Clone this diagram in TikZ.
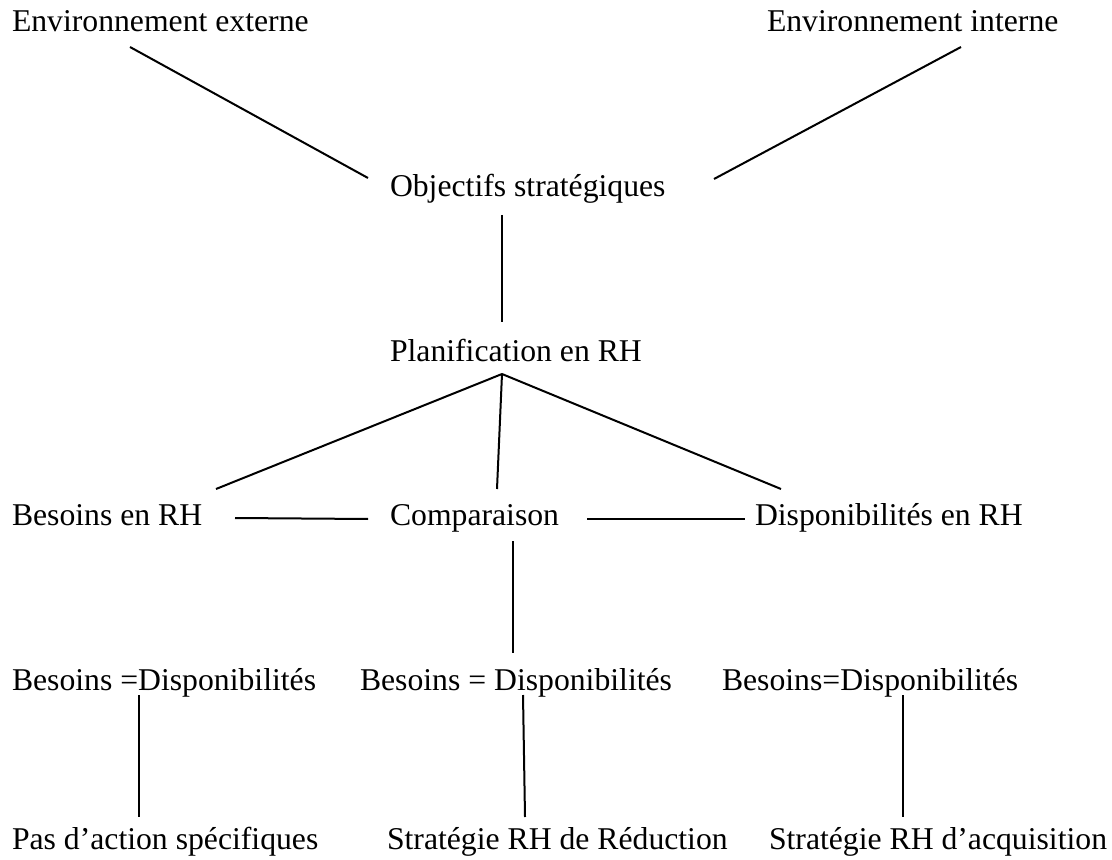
\documentclass[tikz,border=0pt]{standalone}
\usepackage{fontspec}
\setmainfont{Liberation Serif}
\usepackage{tikz}
\usetikzlibrary{positioning}

\begin{document}
\begin{tikzpicture}[x=0.5pt, y=-0.5pt,
    every node/.style={font=\fontsize{15.85}{19}\selectfont},
    lbl/.style={anchor=base west, inner sep=0pt, outer sep=0pt},
    link/.style={line width=1pt}]

\useasboundingbox (0,0) rectangle (1112,860);

% Environnements et objectifs
\node[lbl] (envExt) at (12, 32) {Environnement externe};
\node[lbl] (envInt) at (767, 32) {Environnement interne};
\node[lbl] (objStrat) at (390, 197) {Objectifs stratégiques};
\node[lbl] (planif) at (390, 362) {Planification en RH};

\coordinate (extBas) at (130, 47);
\coordinate (objGauche) at (368, 178);
\coordinate (intBas) at (961, 47);
\coordinate (objDroite) at (714, 179);
\coordinate (objBas) at (502, 215);
\coordinate (planifHaut) at (502, 322);
\draw[link] (extBas) -- (objGauche);
\draw[link] (intBas) -- (objDroite);
\draw[link] (objBas) -- (planifHaut);

% Besoins, comparaison, disponibilites
\node[lbl] (besoins) at (12, 525) {Besoins en RH};
\node[lbl] (comparaison) at (390, 525) {Comparaison};
\node[lbl] (dispo) at (755, 525) {Disponibilités en RH};

\coordinate (planifBas) at (502, 374);
\coordinate (besoinsHaut) at (216, 489);
\coordinate (compHaut) at (497, 489);
\coordinate (dispoHaut) at (781, 489);
\draw[link] (planifBas) -- (besoinsHaut);
\draw[link] (planifBas) -- (compHaut);
\draw[link] (planifBas) -- (dispoHaut);

\coordinate (besoinsDroite) at (235, 518);
\coordinate (compGauche) at (368, 519);
\coordinate (compDroite) at (587, 519);
\coordinate (dispoGauche) at (745, 519);
\draw[link] (besoinsDroite) -- (compGauche);
\draw[link] (compDroite) -- (dispoGauche);

% Trois cas et strategies
\node[lbl] (egalG) at (12, 690) {Besoins =Disponibilités};
\node[lbl] (egalC) at (360, 690) {Besoins = Disponibilités};
\node[lbl] (egalD) at (722, 690) {Besoins=Disponibilités};

\coordinate (compBas) at (513, 541);
\coordinate (egalCHaut) at (513, 653);
\draw[link] (compBas) -- (egalCHaut);

\node[lbl] (pasAction) at (12, 849) {Pas d’action spécifiques};
\node[lbl] (reduction) at (387, 849) {Stratégie RH de Réduction};
\node[lbl] (acquisition) at (769, 849) {Stratégie RH d’acquisition};

\coordinate (egalGBas) at (139, 695);
\coordinate (pasHaut) at (139, 817);
\coordinate (egalCBas) at (523, 695);
\coordinate (reducHaut) at (525, 817);
\coordinate (egalDBas) at (903, 695);
\coordinate (acquiHaut) at (903, 817);
\draw[link] (egalGBas) -- (pasHaut);
\draw[link] (egalCBas) -- (reducHaut);
\draw[link] (egalDBas) -- (acquiHaut);

\end{tikzpicture}
\end{document}
